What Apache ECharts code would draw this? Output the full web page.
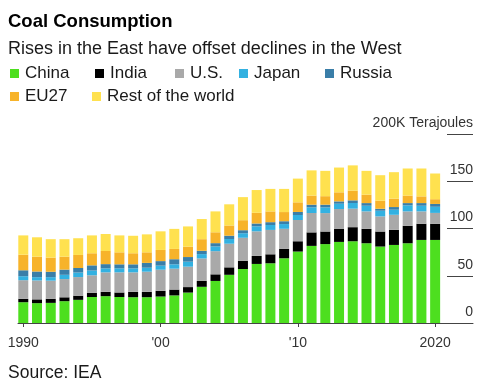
<!DOCTYPE html>
<html>
<head>
<meta charset="utf-8">
<script src="https://cdn.jsdelivr.net/npm/echarts@6/dist/echarts.min.js"></script>
<style>
html,body{margin:0;padding:0;background:#fff;}
#chart{width:500px;height:392px;}
</style>
</head>
<body>
<div id="chart"></div>
<script>
const years = [1990,1991,1992,1993,1994,1995,1996,1997,1998,1999,2000,2001,2002,2003,2004,2005,2006,2007,2008,2009,2010,2011,2012,2013,2014,2015,2016,2017,2018,2019,2020];
const china  = [22.0,21.0,21.3,23.1,24.5,27.5,28.4,27.5,27.3,27.3,28.0,29.2,32.2,38.3,44.5,51.0,57.1,62.5,63.2,68.5,75.6,81.6,83.5,85.8,86.5,84.4,80.9,82.6,84.4,87.9,87.9];
const india  = [3.6,4.0,4.3,4.1,4.4,4.5,4.6,4.8,5.7,5.7,6.0,6.2,5.8,6.2,7.0,7.9,8.6,8.5,9.5,9.9,10.9,14.3,13.3,13.7,14.9,15.2,15.9,16.0,18.4,17.1,17.1];
const us     = [19.7,20.0,19.2,19.3,19.7,18.5,20.6,21.3,20.6,21.3,22.4,22.1,21.6,23.8,24.5,25.0,24.5,26.0,25.8,21.3,22.5,20.5,19.5,21.1,19.6,18.5,16.0,15.9,15.3,13.1,11.5];
const japan  = [4.2,3.5,3.7,4.5,4.8,5.0,4.2,4.2,4.2,4.2,4.3,4.6,5.3,4.6,5.0,5.0,4.8,5.3,5.2,5.0,5.3,6.0,6.0,5.6,6.0,6.0,6.0,5.4,6.4,6.0,6.5];
const russia = [6.3,6.0,5.7,5.5,4.8,5.5,4.5,4.3,4.3,5.1,4.8,5.4,4.9,3.5,3.5,3.5,3.2,3.0,3.0,3.0,3.2,2.8,2.9,2.5,2.8,2.8,2.1,2.8,2.4,2.8,3.0];
const eu27   = [16.5,15.7,15.0,13.7,13.8,12.8,13.9,12.7,11.7,11.2,11.8,10.9,11.0,12.3,11.5,10.8,10.6,11.3,11.4,9.7,10.2,9.6,9.0,9.6,10.3,8.9,8.5,8.9,7.9,7.1,5.0];
const rest   = [20.4,20.5,19.5,18.5,17.7,18.9,18.0,17.9,18.5,19.0,19.7,21.2,21.4,21.3,22.1,22.4,24.4,24.1,23.8,24.5,25.1,26.7,26.8,26.2,26.7,25.2,27.0,28.0,28.7,29.5,27.2];

const seriesNames = ['China','India','U.S.','Japan','Russia','EU27','Rest of the world'];
const seriesData = [china, india, us, japan, russia, eu27, rest];
const colors = ['#4ddf1f','#000000','#a9a9a9','#33b1e1','#3a7ea8','#f7b32a','#ffe14f'];

const xTickLabels = {1990:'1990',2000:"'00",2010:"'10",2020:'2020'};
const yTickLabels = {0:'0',50:'50',100:'100',150:'150',200:'200K Terajoules'};

const FONT = '"Liberation Sans", Arial, sans-serif';

// legend layout (left, top) per item
const legendPos = [[10,65],[95,65],[175,65],[239,65],[325,65],[10,88],[92,88]];

const chart = echarts.init(document.getElementById('chart'), null, {renderer:'canvas'});

const series = seriesNames.map((name, k) => ({
  name: name,
  type: 'bar',
  stack: 'total',
  barWidth: 10,
  xAxisIndex: 0,
  yAxisIndex: 0,
  itemStyle: {color: colors[k]},
  emphasis: {disabled: true},
  data: seriesData[k]
}));

const legends = seriesNames.map((name, k) => ({
  data: [name], left: legendPos[k][0], top: legendPos[k][1], padding: 0,
  itemWidth: 9, itemHeight: 9, icon: 'rect', selectedMode: false,
  textStyle: {fontFamily: FONT, fontSize: 17, color: '#1a1a1a', padding: [0,0,0,1]}
}));

chart.setOption({
  animation: false,
  textStyle: {fontFamily: FONT},
  title: [
    {text: 'Coal Consumption', left: 8, top: 12, padding: 0,
     textStyle: {fontFamily: FONT, fontSize: 18.5, fontWeight: 'bold', color: '#000'}},
    {text: 'Rises in the East have offset declines in the West', left: 8, top: 40, padding: 0,
     textStyle: {fontFamily: FONT, fontSize: 18, fontWeight: 'normal', color: '#1a1a1a'}},
    {text: 'Source: IEA', left: 8, top: 364, padding: 0,
     textStyle: {fontFamily: FONT, fontSize: 17.5, fontWeight: 'normal', color: '#1a1a1a'}}
  ],
  legend: legends,
  grid: [
    {left: 16.43, right: 58.0, top: 134, bottom: 69, containLabel: false},
    {left: 18, right: 27, top: 134, bottom: 69, containLabel: false}
  ],
  xAxis: [
    {
      type: 'category', gridIndex: 0, data: years, boundaryGap: true,
      axisLine: {show: false},
      axisTick: {show: true, alignWithLabel: true, length: 4,
        interval: (i, v) => xTickLabels[v] !== undefined, lineStyle: {color: '#444'}},
      axisLabel: {interval: (i, v) => xTickLabels[v] !== undefined,
        formatter: v => xTickLabels[v] || '', margin: 13,
        fontFamily: FONT, fontSize: 14, color: '#333'},
      splitLine: {show: false}
    },
    {
      type: 'value', gridIndex: 1, min: 0, max: 1,
      axisLine: {show: true, onZero: false, lineStyle: {color: '#444', width: 1}},
      axisTick: {show: false}, axisLabel: {show: false}, splitLine: {show: false}
    }
  ],
  yAxis: [
    {type: 'value', gridIndex: 0, min: 0, max: 200, interval: 50, show: false, splitLine: {show: false}},
    {
      type: 'value', gridIndex: 1, min: 0, max: 200, interval: 50, position: 'right',
      axisLine: {show: false, onZero: false},
      axisTick: {show: true, inside: true, length: 26, lineStyle: {color: '#444'}},
      axisLabel: {inside: true, margin: 0, align: 'right', verticalAlign: 'bottom',
        padding: [0,0,4,0], showMinLabel: true, showMaxLabel: true,
        formatter: v => yTickLabels[v] || '', fontFamily: FONT, fontSize: 14, color: '#333'},
      splitLine: {show: false}
    }
  ],
  series: series
});
</script>
</body>
</html>
